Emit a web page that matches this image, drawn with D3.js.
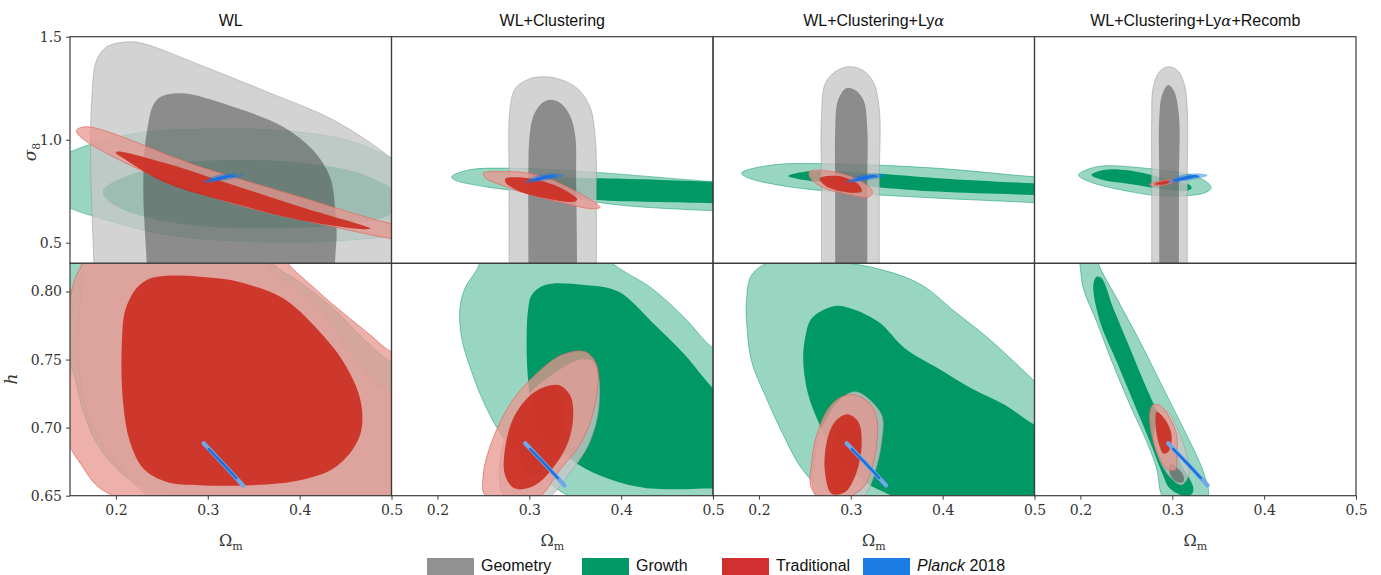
<!DOCTYPE html>
<html><head><meta charset="utf-8">
<script src="https://cdn.jsdelivr.net/npm/d3@7"></script>
<style>body{margin:0;background:#fff}svg{display:block}</style>
</head><body><svg id="c" width="1381" height="575"></svg>
<script>
// ---------------- data ----------------
const titles = ["WL", "WL+Clustering", "WL+Clustering+Ly", "WL+Clustering+Ly"];
const titleSuffix = ["", "", "", "+Recomb"];
const titleAlpha = [false, false, true, true];
const omegaDomain = [0.15, 0.5];
const sigmaDomain = [0.4, 1.5];
const hDomain = [0.65, 0.8207];
const omegaTicks = [0.2, 0.3, 0.4, 0.5];
const sigmaTicks = [0.5, 1.0, 1.5];
const hTicks = [0.65, 0.70, 0.75, 0.80];
const legendLabels = ["Geometry", "Growth", "Traditional", "Planck"];

// top row: (Omega_m, sigma_8) contours per column
const topGeoOuter = [
  [[0.178,0.10],[0.176,0.40],[0.1725,0.87],[0.1736,1.19],[0.179,1.387],[0.190,1.451],[0.2077,1.473],[0.226,1.471],[0.2915,1.363],[0.364,1.233],[0.4366,1.096],[0.498,0.917],[0.54,0.75],[0.56,0.40],[0.56,0.10]],
  [[0.278,0.10],[0.278,0.40],[0.278,0.80],[0.279,1.15],[0.285,1.25],[0.300,1.295],[0.314,1.305],[0.332,1.295],[0.352,1.25],[0.366,1.16],[0.372,1.00],[0.373,0.70],[0.373,0.40],[0.373,0.10]],
  [[0.268,0.10],[0.268,0.40],[0.268,0.80],[0.268,1.10],[0.272,1.27],[0.283,1.33],[0.297,1.354],[0.312,1.34],[0.324,1.285],[0.331,1.15],[0.331,0.80],[0.331,0.40],[0.331,0.10]],
  [[0.2776,0.10],[0.2776,0.40],[0.2776,0.80],[0.2776,1.10],[0.279,1.25],[0.286,1.33],[0.2957,1.354],[0.306,1.335],[0.313,1.27],[0.3163,1.15],[0.3163,0.80],[0.3163,0.40],[0.3163,0.10]]
];
const topGeoInner = [
  [[0.236,0.10],[0.2335,0.40],[0.2298,0.772],[0.2335,1.033],[0.2444,1.193],[0.2697,1.225],[0.3274,1.160],[0.3819,1.063],[0.4145,0.950],[0.433,0.820],[0.4385,0.675],[0.4403,0.546],[0.4385,0.40],[0.438,0.10]],
  [[0.299,0.10],[0.299,0.40],[0.299,0.80],[0.300,1.00],[0.304,1.11],[0.312,1.17],[0.321,1.193],[0.333,1.18],[0.344,1.12],[0.350,1.02],[0.351,0.80],[0.352,0.40],[0.352,0.10]],
  [[0.283,0.10],[0.283,0.40],[0.283,0.80],[0.283,1.05],[0.286,1.19],[0.295,1.25],[0.305,1.24],[0.314,1.19],[0.318,1.05],[0.318,0.80],[0.318,0.40],[0.318,0.10]],
  [[0.2858,0.10],[0.2858,0.40],[0.2858,0.80],[0.2858,1.10],[0.289,1.22],[0.2957,1.266],[0.302,1.235],[0.3072,1.12],[0.3072,0.80],[0.3072,0.40],[0.3072,0.10]]
];
const topGrowthOuter = [
  [[0.105,0.82],[0.15,0.94],[0.22,1.03],[0.30,1.052],[0.38,1.045],[0.45,1.00],[0.50,0.91],[0.55,0.76],[0.53,0.57],[0.46,0.515],[0.36,0.505],[0.26,0.535],[0.19,0.61],[0.14,0.69]],
  [[0.2155,0.820],[0.234,0.853],[0.288,0.861],[0.361,0.845],[0.50,0.796],[0.58,0.77],[0.62,0.72],[0.58,0.64],[0.50,0.655],[0.397,0.683],[0.324,0.732],[0.252,0.772],[0.219,0.804]],
  [[0.181,0.838],[0.214,0.877],[0.286,0.882],[0.395,0.861],[0.50,0.820],[0.58,0.80],[0.62,0.74],[0.58,0.67],[0.50,0.694],[0.395,0.716],[0.305,0.740],[0.232,0.772],[0.188,0.815]],
  [[0.198,0.829],[0.218,0.869],[0.272,0.861],[0.327,0.820],[0.341,0.780],[0.3422,0.764],[0.334,0.740],[0.290,0.727],[0.254,0.748],[0.210,0.796]]
];
const topGrowthInner = [
  [[0.186,0.756],[0.21,0.82],[0.26,0.88],[0.33,0.901],[0.41,0.885],[0.47,0.83],[0.51,0.72],[0.50,0.64],[0.44,0.585],[0.36,0.570],[0.28,0.585],[0.22,0.64],[0.19,0.71]],
  [[0.30,0.775],[0.32,0.81],[0.373,0.813],[0.50,0.796],[0.58,0.78],[0.62,0.735],[0.58,0.68],[0.50,0.691],[0.373,0.707],[0.32,0.73]],
  [[0.232,0.824],[0.250,0.845],[0.323,0.837],[0.395,0.813],[0.50,0.788],[0.58,0.775],[0.62,0.75],[0.58,0.725],[0.50,0.732],[0.395,0.748],[0.323,0.772],[0.250,0.804]],
  [[0.212,0.829],[0.225,0.853],[0.254,0.850],[0.290,0.813],[0.319,0.780],[0.321,0.764],[0.316,0.752],[0.290,0.759],[0.254,0.785],[0.2249,0.804]]
];
const topTradOuter = [
  [[0.157,1.045],[0.168,1.063],[0.2915,0.869],[0.400,0.723],[0.498,0.594],[0.56,0.545],[0.58,0.51],[0.56,0.48],[0.498,0.521],[0.436,0.578],[0.327,0.691],[0.219,0.869],[0.161,1.015]],
  [[0.250,0.838],[0.272,0.845],[0.301,0.836],[0.336,0.783],[0.377,0.672],[0.368,0.665],[0.330,0.700],[0.302,0.732],[0.274,0.772],[0.252,0.815]],
  [[0.255,0.845],[0.280,0.845],[0.309,0.804],[0.3235,0.748],[0.320,0.723],[0.291,0.740],[0.268,0.772],[0.256,0.813]],
  [[0.275,0.782],[0.285,0.798],[0.300,0.806],[0.304,0.800],[0.293,0.781],[0.280,0.775]]
];
const topTradInner = [
  [[0.200,0.935],[0.2008,0.942],[0.2553,0.885],[0.3278,0.780],[0.4004,0.675],[0.473,0.578],[0.477,0.570],[0.473,0.565],[0.4004,0.610],[0.3278,0.691],[0.2553,0.788],[0.208,0.910]],
  [[0.2736,0.805],[0.2754,0.814],[0.299,0.813],[0.3316,0.772],[0.352,0.712],[0.3498,0.700],[0.317,0.716],[0.288,0.752],[0.2745,0.790]],
  [[0.266,0.810],[0.272,0.822],[0.291,0.820],[0.309,0.780],[0.312,0.750],[0.305,0.742],[0.291,0.748],[0.273,0.774]],
  [[0.280,0.784],[0.288,0.797],[0.297,0.800],[0.296,0.790],[0.287,0.781]]
];
const planckTopOuter = [[0.295,0.793],[0.300,0.808],[0.310,0.826],[0.322,0.834],[0.334,0.832],[0.338,0.826],[0.330,0.815],[0.316,0.803],[0.302,0.794]];
const planckTopInner = [[0.300,0.799],[0.306,0.812],[0.316,0.824],[0.327,0.828],[0.330,0.822],[0.320,0.812],[0.308,0.801]];

// bottom row: (Omega_m, h) contours per column
const botGeoOuter = [
  [[0.172,0.85],[0.1627,0.8024],[0.159,0.7533],[0.1682,0.7116],[0.1935,0.6798],[0.2335,0.6504],[0.30,0.62],[0.56,0.62],[0.56,0.71],[0.50,0.727],[0.48,0.735],[0.4584,0.7533],[0.4186,0.790],[0.364,0.8207],[0.36,0.85]],
  [[0.3534,0.7495],[0.368,0.749],[0.3751,0.7386],[0.3751,0.7117],[0.3643,0.6871],[0.3425,0.6651],[0.3244,0.6503],[0.30,0.638],[0.2717,0.6503],[0.2681,0.6749],[0.2772,0.6994],[0.2989,0.7239],[0.3244,0.7386]],
  [[0.301,0.726],[0.3118,0.7249],[0.3336,0.7092],[0.3336,0.6896],[0.3264,0.6675],[0.3155,0.6503],[0.29,0.638],[0.261,0.6503],[0.261,0.6798],[0.2683,0.6994],[0.2864,0.719]],
  [[0.2939,0.712],[0.305,0.700],[0.3157,0.680],[0.318,0.665],[0.310,0.658],[0.300,0.662],[0.287,0.675],[0.280,0.695]]
];
const botGeoInner = [
  null,
  [[0.3135,0.7288],[0.3316,0.7239],[0.3389,0.7092],[0.3316,0.6896],[0.3171,0.670],[0.2989,0.6651],[0.2916,0.6798],[0.2953,0.7043]],
  [[0.300,0.707],[0.310,0.700],[0.312,0.685],[0.305,0.665],[0.292,0.652],[0.282,0.655],[0.279,0.675],[0.285,0.695]],
  [[0.2975,0.674],[0.306,0.670],[0.312,0.665],[0.312,0.660],[0.305,0.660],[0.298,0.665]]
];
const botGrowthOuter = [
  [[0.13,0.85],[0.13,0.76],[0.15,0.746],[0.1645,0.7116],[0.1827,0.6847],[0.219,0.6601],[0.2607,0.650],[0.32,0.63],[0.56,0.63],[0.56,0.73],[0.499,0.7484],[0.473,0.7631],[0.4366,0.7876],[0.40,0.807],[0.371,0.8207],[0.35,0.85]],
  [[0.26,0.835],[0.242,0.815],[0.230,0.8024],[0.2245,0.7876],[0.2264,0.7656],[0.2373,0.741],[0.2518,0.7166],[0.270,0.6945],[0.2953,0.6749],[0.3244,0.6577],[0.3425,0.6499],[0.40,0.63],[0.56,0.63],[0.56,0.735],[0.5003,0.7582],[0.4695,0.7803],[0.4332,0.8024],[0.393,0.8195],[0.37,0.835]],
  [[0.2139,0.822],[0.2937,0.821],[0.341,0.8146],[0.3772,0.8048],[0.4135,0.7851],[0.4497,0.7656],[0.5005,0.7337],[0.55,0.70],[0.55,0.63],[0.33,0.635],[0.2973,0.650],[0.2683,0.6552],[0.2465,0.670],[0.2248,0.697],[0.2066,0.7239],[0.1921,0.7484],[0.1866,0.7778],[0.1866,0.795],[0.1921,0.8121]],
  [[0.196,0.835],[0.1995,0.8195],[0.2031,0.8024],[0.2177,0.7778],[0.2358,0.746],[0.254,0.7166],[0.2722,0.6896],[0.283,0.670],[0.2885,0.650],[0.30,0.640],[0.33,0.640],[0.3393,0.650],[0.3339,0.6675],[0.3157,0.6945],[0.2903,0.7288],[0.2649,0.7631],[0.2395,0.795],[0.2195,0.8207],[0.215,0.835]]
];
const botGrowthInner = [
  null,
  [[0.3171,0.8048],[0.3607,0.8048],[0.3969,0.7999],[0.4332,0.7778],[0.4695,0.7533],[0.5003,0.7288],[0.55,0.70],[0.55,0.655],[0.5003,0.6552],[0.4332,0.6552],[0.3969,0.6601],[0.3607,0.670],[0.3316,0.6847],[0.3062,0.7043],[0.2989,0.7337],[0.2971,0.7656],[0.2989,0.7876],[0.3026,0.7974]],
  [[0.2792,0.7888],[0.2937,0.7888],[0.33,0.7778],[0.359,0.7582],[0.3953,0.7435],[0.4316,0.7288],[0.4679,0.7166],[0.5005,0.7019],[0.55,0.685],[0.55,0.63],[0.40,0.63],[0.3446,0.650],[0.3155,0.6601],[0.2792,0.6847],[0.2647,0.7043],[0.2538,0.7239],[0.2483,0.7484],[0.2502,0.7656],[0.2574,0.7802]],
  [[0.2177,0.8109],[0.2231,0.8097],[0.2358,0.7876],[0.254,0.7582],[0.2722,0.7288],[0.2903,0.7019],[0.3084,0.6749],[0.323,0.6552],[0.320,0.6505],[0.3121,0.650],[0.2975,0.6552],[0.2885,0.6675],[0.2757,0.6896],[0.2576,0.719],[0.2395,0.7484],[0.2213,0.7778],[0.214,0.8048]]
];
const botTradOuter = [
  [[0.178,0.83],[0.16,0.816],[0.151,0.798],[0.145,0.74],[0.148,0.69],[0.163,0.672],[0.18,0.657],[0.205,0.648],[0.30,0.635],[0.56,0.635],[0.56,0.74],[0.499,0.756],[0.477,0.768],[0.437,0.790],[0.40,0.812],[0.375,0.826],[0.30,0.835]],
  [[0.3607,0.7557],[0.3734,0.746],[0.3715,0.7166],[0.3571,0.6896],[0.3316,0.6675],[0.3135,0.6503],[0.29,0.640],[0.2518,0.6503],[0.2499,0.6651],[0.2591,0.6896],[0.2808,0.719],[0.3062,0.7386],[0.3353,0.7533]],
  [[0.3046,0.7239],[0.320,0.718],[0.3282,0.7068],[0.3264,0.6798],[0.3155,0.6577],[0.301,0.650],[0.28,0.642],[0.2574,0.6552],[0.2574,0.6749],[0.2629,0.6945],[0.2756,0.7141],[0.2901,0.7227]],
  [[0.2794,0.717],[0.2885,0.7154],[0.2975,0.7068],[0.3048,0.6945],[0.3048,0.6798],[0.303,0.6688],[0.2939,0.670],[0.2848,0.6798],[0.2776,0.6945],[0.2757,0.7117]]
];
const botTradInner = [
  [[0.2063,0.7582],[0.212,0.790],[0.2335,0.8085],[0.31,0.8097],[0.346,0.8048],[0.382,0.795],[0.4186,0.7729],[0.4476,0.7484],[0.4657,0.7215],[0.4675,0.6994],[0.4584,0.6847],[0.4367,0.670],[0.4004,0.6614],[0.346,0.6577],[0.2915,0.6577],[0.2553,0.6601],[0.2298,0.670],[0.2153,0.6896],[0.2081,0.7165]],
  [[0.3316,0.7313],[0.3443,0.7239],[0.3479,0.7092],[0.3425,0.6896],[0.328,0.6724],[0.3062,0.6577],[0.2844,0.6552],[0.2736,0.6651],[0.2736,0.6847],[0.2844,0.7092],[0.3062,0.7264]],
  [[0.2961,0.7098],[0.3082,0.7043],[0.3118,0.6896],[0.3064,0.6675],[0.2937,0.6527],[0.2792,0.6515],[0.2719,0.6675],[0.2738,0.6896],[0.2828,0.7043]],
  [[0.283,0.7117],[0.2939,0.7043],[0.2994,0.6933],[0.2957,0.6823],[0.2903,0.681],[0.2848,0.6896],[0.2819,0.7019]]
];
const planckBotOuter = [[0.2955,0.6885],[0.317,0.6732],[0.3385,0.6575]];
const planckBotInner = [[0.301,0.6843],[0.317,0.6732],[0.331,0.6630]];

// ---------------- layout / style ----------------
const colX0 = [70, 391.5, 713, 1034.5];
const panelW = 321.5;
const topRowY = [36.7, 263.3];
const botRowY = [263.3, 495.7];
const sty = {
  growthOuter: {fill:"#009966", fo:0.4, stroke:"#009966", so:0.55},
  growthInner: {fill:"#009966", fo:1},
  geoOuter: {fill:"#c7c7c7", fo:0.79, stroke:"#9a9a9a", so:0.6},
  geoInner: {fill:"#1d1d1d", fo:0.39},
  tradOuter: {fill:"#e8958f", fo:0.75, stroke:"#e06a62", so:0.8},
  tradInner: {fill:"#cc2c20", fo:0.9},
  planckOuter: {fill:"#1a7be0", fo:0.45, stroke:"#1a7be0", so:0.3},
  planckInner: {fill:"#1a6fe0", fo:1}
};
const legendColors = ["#919191", "#009966", "#d13030", "#1b7de3"];
const serif = "'DejaVu Serif', serif";
const sans = "'Liberation Sans', Arial, sans-serif";

const svg = d3.select("#c");
svg.append("rect").attr("width",1381).attr("height",575).attr("fill","#fff");
const defs = svg.append("defs");
const closed = d3.curveCatmullRomClosed.alpha(0.5);

function drawShape(g, pts, x, y, s) {
  if (!pts) return;
  const ln = d3.line().x(d => x(d[0])).y(d => y(d[1])).curve(closed);
  const p = g.append("path").attr("d", ln(pts)).attr("fill", s.fill).attr("fill-opacity", s.fo);
  if (s.stroke) p.attr("stroke", s.stroke).attr("stroke-opacity", s.so).attr("stroke-width", 0.9);
}

function panel(row, c) {
  const x = d3.scaleLinear().domain(omegaDomain).range([colX0[c], colX0[c] + panelW]);
  const ry = row === 0 ? topRowY : botRowY;
  const y = d3.scaleLinear().domain(row === 0 ? sigmaDomain : hDomain).range([ry[1], ry[0]]);
  const id = "clip" + row + c;
  defs.append("clipPath").attr("id", id).append("rect")
    .attr("x", x.range()[0]).attr("y", ry[0]).attr("width", panelW).attr("height", ry[1] - ry[0]);
  const g = svg.append("g").attr("clip-path", `url(#${id})`);
  if (row === 0) {
    drawShape(g, topGrowthOuter[c], x, y, sty.growthOuter);
    drawShape(g, topGrowthInner[c], x, y, sty.growthInner);
    drawShape(g, topGeoOuter[c], x, y, sty.geoOuter);
    drawShape(g, topGeoInner[c], x, y, sty.geoInner);
    drawShape(g, topTradOuter[c], x, y, sty.tradOuter);
    drawShape(g, topTradInner[c], x, y, sty.tradInner);
    drawShape(g, planckTopOuter, x, y, sty.planckOuter);
    drawShape(g, planckTopInner, x, y, sty.planckInner);
  } else {
    drawShape(g, botGrowthOuter[c], x, y, sty.growthOuter);
    drawShape(g, botGrowthInner[c], x, y, sty.growthInner);
    drawShape(g, botGeoOuter[c], x, y, sty.geoOuter);
    drawShape(g, botGeoInner[c], x, y, sty.geoInner);
    drawShape(g, botTradOuter[c], x, y, sty.tradOuter);
    drawShape(g, botTradInner[c], x, y, sty.tradInner);
    const ol = d3.line().x(d => x(d[0])).y(d => y(d[1]));
    g.append("path").attr("d", ol(planckBotOuter)).attr("fill","none")
      .attr("stroke","#6fa8ea").attr("stroke-width",4.2).attr("stroke-linecap","round");
    g.append("path").attr("d", ol(planckBotInner)).attr("fill","none")
      .attr("stroke","#1a6fe0").attr("stroke-width",2.4).attr("stroke-linecap","round");
  }
  // frame
  svg.append("rect").attr("x", x.range()[0]).attr("y", ry[0]).attr("width", panelW)
    .attr("height", ry[1] - ry[0]).attr("fill","none").attr("stroke","#3c3c3c").attr("stroke-width",1.2);
  // axes
  if (row === 1) {
    const ax = svg.append("g").attr("transform", `translate(0,${ry[1]})`)
      .call(d3.axisBottom(x).tickValues(omegaTicks).tickFormat(d3.format(".1f")).tickSize(4).tickPadding(5));
    ax.select(".domain").remove();
    ax.selectAll("line").attr("stroke","#3c3c3c");
    ax.selectAll("text").attr("font-family", serif).attr("font-size", 14).attr("fill","#333");
    const lab = svg.append("text").attr("x", colX0[c] + panelW/2).attr("y", 546)
      .attr("text-anchor","middle").attr("font-family", serif).attr("font-size", 16).attr("fill","#333");
    lab.append("tspan").text("Ω");
    lab.append("tspan").attr("dy", 4).attr("font-size", 11).text("m");
  }
  if (c === 0) {
    const ay = svg.append("g").attr("transform", `translate(${colX0[0]},0)`)
      .call(d3.axisLeft(y).tickValues(row === 0 ? sigmaTicks : hTicks)
        .tickFormat(d3.format(row === 0 ? ".1f" : ".2f")).tickSize(4).tickPadding(4));
    ay.select(".domain").remove();
    ay.selectAll("line").attr("stroke","#3c3c3c");
    ay.selectAll("text").attr("font-family", serif).attr("font-size", 14).attr("fill","#333");
  }
  if (row === 0) {
    const t = svg.append("text").attr("x", colX0[c] + panelW/2).attr("y", 26)
      .attr("text-anchor","middle").attr("font-family", sans).attr("font-size", 16).attr("fill","#111");
    t.append("tspan").text(titles[c]);
    if (titleAlpha[c]) t.append("tspan").attr("font-family", serif).attr("font-style","italic").attr("font-size",15).text("α");
    if (titleSuffix[c]) t.append("tspan").text(titleSuffix[c]);
  }
}

for (let r = 0; r < 2; r++) for (let c = 0; c < 4; c++) panel(r, c);

// y labels
const sl = svg.append("text").attr("transform","translate(36,152) rotate(-90)")
  .attr("text-anchor","middle").attr("font-family", serif).attr("font-size", 17).attr("fill","#333");
sl.append("tspan").attr("font-style","italic").text("σ");
sl.append("tspan").attr("dy", 4).attr("font-size", 11).text("8");
svg.append("text").attr("transform","translate(17,379) rotate(-90)")
  .attr("text-anchor","middle").attr("font-family", serif).attr("font-style","italic")
  .attr("font-size", 17).attr("fill","#333").text("h");

// legend
const legX = [427, 582, 722, 863];
const legG = svg.append("g");
legendLabels.forEach((lbl, i) => {
  legG.append("rect").attr("x", legX[i]).attr("y", 558).attr("width", 47).attr("height", 17).attr("fill", legendColors[i]);
  const t = legG.append("text").attr("x", legX[i] + 54).attr("y", 571)
    .attr("font-family", sans).attr("font-size", 16).attr("fill","#111");
  if (lbl === "Planck") {
    t.append("tspan").attr("font-style","italic").text("Planck");
    t.append("tspan").text(" 2018");
  } else t.text(lbl);
});
</script>
</body></html>
